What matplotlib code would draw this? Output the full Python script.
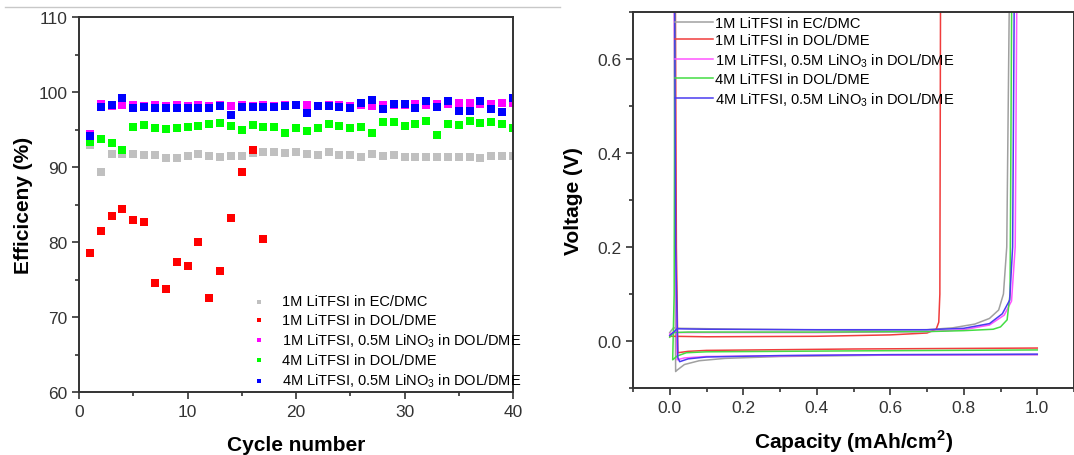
import matplotlib
matplotlib.use("Agg")
import matplotlib.pyplot as plt
from matplotlib.lines import Line2D
from matplotlib.ticker import MultipleLocator

plt.rcParams['font.family'] = ['Liberation Sans', 'DejaVu Sans']
plt.rcParams['mathtext.fontset'] = 'custom'
plt.rcParams['mathtext.rm'] = 'Liberation Sans'
plt.rcParams['mathtext.bf'] = 'Liberation Sans:bold'

labels = ["1M LiTFSI in EC/DMC",
          "1M LiTFSI in DOL/DME",
          "1M LiTFSI, 0.5M LiNO$_3$ in DOL/DME",
          "4M LiTFSI in DOL/DME",
          "4M LiTFSI, 0.5M LiNO$_3$ in DOL/DME"]

# left panel: coulombic efficiency per cycle
cycles = list(range(1, 41))
eff_ecdmc = [93.0, 89.4, 91.8, 91.7, 91.8, 91.6, 91.6, 91.2, 91.2, 91.5,
             91.8, 91.5, 91.4, 91.5, 91.5, 91.9, 92.0, 92.0, 91.9, 92.0,
             91.7, 91.6, 92.0, 91.6, 91.6, 91.3, 91.7, 91.5, 91.6, 91.4,
             91.4, 91.4, 91.4, 91.4, 91.4, 91.4, 91.2, 91.5, 91.5, 91.5]
cycles_doldme = list(range(1, 18))
eff_doldme = [78.6, 81.5, 83.5, 84.4, 82.9, 82.7, 74.5, 73.8, 77.3, 76.8,
              80.0, 72.5, 76.2, 83.2, 89.4, 92.3, 80.4]
eff_1m_lino3 = [94.4, 98.4, 98.2, 98.3, 98.3, 98.2, 98.3, 98.2, 98.3, 98.2,
                98.3, 98.2, 98.3, 98.2, 98.3, 98.2, 98.3, 98.2, 98.3, 98.3,
                98.3, 98.2, 98.3, 98.3, 98.2, 98.3, 98.2, 98.3, 98.3, 98.3,
                98.4, 98.3, 98.4, 98.4, 98.5, 98.5, 98.4, 98.4, 98.5, 98.5]
eff_4m = [93.4, 93.8, 93.2, 92.3, 95.4, 95.6, 95.2, 95.1, 95.2, 95.3,
          95.5, 95.8, 95.9, 95.5, 95.0, 95.6, 95.4, 95.3, 94.6, 95.2,
          94.8, 95.2, 95.8, 95.5, 95.2, 95.3, 94.6, 96.0, 96.0, 95.5,
          95.8, 96.2, 94.3, 95.8, 95.6, 96.2, 95.9, 96.0, 95.7, 95.2]
eff_4m_lino3 = [94.2, 98.0, 98.3, 99.2, 97.9, 98.0, 97.9, 97.9, 97.9, 97.9,
                97.9, 97.9, 98.1, 97.0, 98.0, 98.0, 98.0, 98.0, 98.1, 98.3,
                97.2, 98.1, 98.2, 98.0, 97.9, 98.5, 99.0, 97.7, 98.4, 98.4,
                97.9, 98.8, 98.0, 98.8, 97.5, 97.5, 98.8, 97.7, 97.4, 99.2]

# right panel: voltage profiles (plating then stripping)
gray_plate_x = [0.012, 0.014, 0.016, 0.02, 0.04, 0.08, 0.15, 0.3, 0.6, 1.0]
gray_plate_y = [0.8, 0.3, -0.065, -0.062, -0.050, -0.042, -0.037, -0.033, -0.030, -0.029]
gray_strip_x = [0.0, 0.01, 0.03, 0.2, 0.5, 0.7, 0.77, 0.83, 0.87, 0.895, 0.908, 0.917, 0.925]
gray_strip_y = [0.018, 0.028, 0.027, 0.025, 0.023, 0.024, 0.028, 0.036, 0.048, 0.066, 0.1, 0.2, 0.8]

red_plate_x = [0.015, 0.018, 0.022, 0.05, 0.1, 0.5, 1.0]
red_plate_y = [0.8, 0.2, -0.025, -0.022, -0.020, -0.017, -0.015]
red_strip_x = [0.0, 0.01, 0.1, 0.4, 0.6, 0.7, 0.725, 0.732, 0.735, 0.737]
red_strip_y = [0.010, 0.010, 0.009, 0.010, 0.013, 0.017, 0.025, 0.04, 0.1, 0.8]

mag_plate_x = [0.012, 0.015, 0.02, 0.04, 0.1, 0.5, 1.0]
mag_plate_y = [0.8, 0.2, -0.040, -0.036, -0.033, -0.030, -0.029]
mag_strip_x = [0.0, 0.01, 0.05, 0.4, 0.7, 0.8, 0.87, 0.91, 0.93, 0.94, 0.945]
mag_strip_y = [0.015, 0.018, 0.018, 0.018, 0.020, 0.024, 0.034, 0.055, 0.085, 0.2, 0.8]

green_plate_x = [0.014, 0.012, 0.008, 0.02, 0.045, 0.1, 0.5, 1.0]
green_plate_y = [0.8, 0.1, -0.040, -0.032, -0.025, -0.023, -0.021, -0.019]
green_strip_x = [0.0, 0.01, 0.05, 0.4, 0.7, 0.8, 0.88, 0.9, 0.918, 0.926, 0.931]
green_strip_y = [0.008, 0.018, 0.019, 0.019, 0.020, 0.022, 0.025, 0.030, 0.045, 0.1, 0.8]

blue_plate_x = [0.013, 0.016, 0.022, 0.027, 0.05, 0.1, 0.3, 0.6, 1.0]
blue_plate_y = [0.8, 0.2, -0.035, -0.044, -0.038, -0.034, -0.031, -0.029, -0.028]
blue_strip_x = [0.0, 0.008, 0.02, 0.1, 0.4, 0.7, 0.8, 0.87, 0.905, 0.925, 0.933, 0.938]
blue_strip_y = [0.012, 0.017, 0.026, 0.025, 0.024, 0.024, 0.027, 0.037, 0.058, 0.087, 0.2, 0.8]

dot_colors = ['#c0c0c0', '#ff0000', '#ff00ff', '#00ff00', '#0000ff']
line_colors = ['#a0a0a0', '#f03c3c', '#ff55ff', '#44dd44', '#4a3cf0']

fig = plt.figure(figsize=(10.74, 4.56), dpi=100)
ax1 = fig.add_axes([79 / 1074, 63 / 456, 434 / 1074, 375 / 456])
ax2 = fig.add_axes([633 / 1074, 67 / 456, 441 / 1074, 376 / 456])

# thin separator line at top of page
fig.add_artist(Line2D([5 / 1074, 560 / 1074], [1 - 8 / 456, 1 - 8 / 456],
                      transform=fig.transFigure, color='#c8c8c8', lw=1))

ms = 28
ax1.scatter(cycles, eff_ecdmc, s=ms, marker='s', color=dot_colors[0], label=labels[0], lw=0)
ax1.scatter(cycles_doldme, eff_doldme, s=ms, marker='s', color=dot_colors[1], label=labels[1], lw=0)
ax1.scatter(cycles, eff_1m_lino3, s=ms, marker='s', color=dot_colors[2], label=labels[2], lw=0)
ax1.scatter(cycles, eff_4m, s=ms, marker='s', color=dot_colors[3], label=labels[3], lw=0)
ax1.scatter(cycles, eff_4m_lino3, s=ms, marker='s', color=dot_colors[4], label=labels[4], lw=0)

ax1.set_xlim(0, 40)
ax1.set_ylim(60, 110)
ax1.xaxis.set_major_locator(MultipleLocator(10))
ax1.xaxis.set_minor_locator(MultipleLocator(5))
ax1.yaxis.set_major_locator(MultipleLocator(10))
ax1.yaxis.set_minor_locator(MultipleLocator(5))
ax1.set_xlabel("Cycle number", fontsize=15, fontweight='bold', labelpad=12)
ax1.set_ylabel("Efficiceny (%)", fontsize=15, fontweight='bold', labelpad=4)
ax1.legend(loc='upper left', bbox_to_anchor=(0.38, 0.26), frameon=False,
           fontsize=10.5, markerscale=0.65, handletextpad=0.6,
           labelspacing=0.3, borderaxespad=0, borderpad=0)

plates = [(gray_plate_x, gray_plate_y), (red_plate_x, red_plate_y),
          (mag_plate_x, mag_plate_y), (green_plate_x, green_plate_y),
          (blue_plate_x, blue_plate_y)]
strips = [(gray_strip_x, gray_strip_y), (red_strip_x, red_strip_y),
          (mag_strip_x, mag_strip_y), (green_strip_x, green_strip_y),
          (blue_strip_x, blue_strip_y)]
for i in range(5):
    ax2.plot(plates[i][0], plates[i][1], color=line_colors[i], lw=1.1, label=labels[i])
    ax2.plot(strips[i][0], strips[i][1], color=line_colors[i], lw=1.1)

ax2.set_xlim(-0.1, 1.1)
ax2.set_ylim(-0.1, 0.7)
ax2.set_xticks([0.0, 0.2, 0.4, 0.6, 0.8, 1.0])
ax2.set_yticks([0.0, 0.2, 0.4, 0.6])
ax2.xaxis.set_minor_locator(MultipleLocator(0.1))
ax2.yaxis.set_minor_locator(MultipleLocator(0.1))
ax2.set_xlabel("Capacity (mAh/cm$^{\\mathbf{2}}$)", fontsize=15, fontweight='bold', labelpad=9)
ax2.set_ylabel("Voltage (V)", fontsize=15, fontweight='bold', labelpad=10)
ax2.legend(loc='upper left', bbox_to_anchor=(0.095, 0.99), frameon=False,
           fontsize=10.5, handlelength=2.6, handletextpad=0.15,
           labelspacing=0.25, borderaxespad=0, borderpad=0)

for ax in (ax1, ax2):
    for sp in ax.spines.values():
        sp.set_linewidth(1.4)
        sp.set_color('#333333')
    ax.tick_params(which='major', direction='out', length=5, width=1.2,
                   labelsize=12.5, colors='#333333', labelcolor='#333333')
    ax.tick_params(which='minor', direction='out', length=3, width=1.2, colors='#333333')

fig.savefig("out.png", dpi=100)
